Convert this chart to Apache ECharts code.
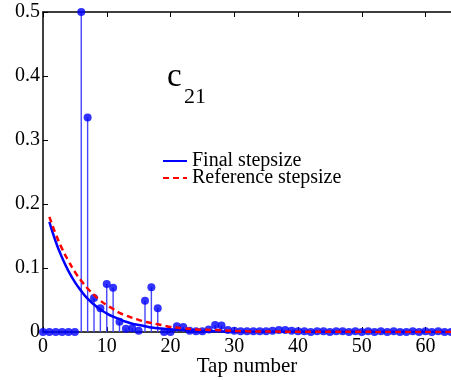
<!DOCTYPE html>
<html>
<head>
<meta charset="utf-8">
<script src="https://cdn.jsdelivr.net/npm/echarts@6/dist/echarts.min.js"></script>
<style>
  html, body { margin: 0; padding: 0; background: #fff; }
  #chart { width: 451px; height: 380px; }
</style>
</head>
<body>
<div id="chart"></div>
<script>
// tap index 0..64 and the stem heights
const stemTaps = Array.from({ length: 65 }, (_, i) => i);
const stemValues = [
  0, 0, 0, 0, 0, 0,
  0.5, 0.335, 0.053, 0.037, 0.075, 0.069, 0.016, 0.005, 0.006, 0.002, 0.049, 0.070, 0.037, 0, 0,
  0.009, 0.008, 0.002, 0.001, 0.001, 0.004, 0.011, 0.010, 0.003, 0.002,
  0.001, 0.001, 0.001, 0.001, 0.001, 0.002, 0.003, 0.003, 0.002, 0.001,
  0.001, 0, 0.001, 0.001, 0, 0.001, 0.001, 0, 0.001, 0,
  0.001, 0, 0.001, 0, 0.001, 0, 0, 0.001, 0, 0.001,
  0, 0.001, 0, 0
];

// smooth curves (read at a few taps)
const finalTaps   = [1, 2, 3, 4, 5, 6, 7, 8, 9, 10, 11, 12, 13, 14, 15, 16, 17, 18, 19, 20, 22, 24, 27, 32, 40, 64];
const finalValues = [0.172, 0.141, 0.116, 0.095, 0.078, 0.064, 0.052, 0.043, 0.035, 0.029, 0.024, 0.020, 0.016, 0.013, 0.011, 0.009, 0.007, 0.006, 0.005, 0.004, 0.003, 0.002, 0.001, 0.0005, 0.0002, 0];
const refTaps     = [1, 2, 3, 4, 5, 6, 7, 8, 9, 10, 11, 12, 13, 14, 15, 16, 17, 18, 19, 20, 22, 24, 27, 32, 40, 64];
const refValues   = [0.180, 0.153, 0.130, 0.111, 0.094, 0.080, 0.068, 0.058, 0.049, 0.042, 0.036, 0.030, 0.026, 0.022, 0.019, 0.016, 0.014, 0.012, 0.010, 0.008, 0.006, 0.004, 0.003, 0.001, 0.0005, 0];

const seriesNames = ['Final stepsize', 'Reference stepsize'];

const font = 'Liberation Serif';
const chart = echarts.init(document.getElementById('chart'));

const stemData = stemTaps.map((t, i) => [t, stemValues[i]]);

const option = {
  animation: false,
  grid: { left: 43, right: 0, top: 12, bottom: 48, containLabel: false, outerBoundsMode: 'none' },
  legend: {
    data: seriesNames,
    orient: 'vertical',
    left: 157,
    top: 146,
    itemWidth: 24,
    itemHeight: 10,
    itemGap: -3,
    itemStyle: { opacity: 0 },
    textStyle: { fontFamily: font, fontSize: 20, color: '#000' }
  },
  xAxis: [
    {
      type: 'value',
      min: 0, max: 64, interval: 10,
      name: 'Tap number',
      nameLocation: 'middle',
      nameGap: 24,
      nameMoveOverlap: false,
      nameTextStyle: { fontFamily: font, fontSize: 21, color: '#000' },
      axisLine: { lineStyle: { color: '#000', width: 1.5 } },
      axisTick: { inside: true, length: 5, lineStyle: { color: '#000' } },
      axisLabel: { fontFamily: font, fontSize: 20, color: '#000', margin: 5, showMaxLabel: false },
      splitLine: { show: false }
    },
    {
      type: 'value',
      position: 'top',
      min: 0, max: 64, interval: 10,
      axisLine: { lineStyle: { color: '#000', width: 1.5 } },
      axisTick: { inside: true, length: 5, lineStyle: { color: '#000' } },
      axisLabel: { show: false },
      splitLine: { show: false }
    }
  ],
  yAxis: {
    type: 'value',
    min: 0, max: 0.5, interval: 0.1,
    axisLine: { show: true, lineStyle: { color: '#000', width: 1.5 } },
    axisTick: { show: true, inside: true, length: 5, lineStyle: { color: '#000' } },
    axisLabel: { fontFamily: font, fontSize: 20, color: '#000', margin: 3 },
    splitLine: { show: false }
  },
  graphic: [
    {
      type: 'text', left: 167, top: 61, z: 10,
      style: { text: 'c', font: '33px "Liberation Serif"', fill: '#000' }
    },
    {
      type: 'text', left: 184, top: 86, z: 10,
      style: { text: '21', font: '22px "Liberation Serif"', fill: '#000' }
    }
  ],
  series: [
    {
      type: 'bar',
      data: stemData,
      barWidth: 1.4,
      itemStyle: { color: '#4646ff' },
      z: 2,
      silent: true
    },
    {
      type: 'scatter',
      data: stemData,
      symbolSize: 8,
      itemStyle: { color: '#0000ff' },
      z: 3
    },
    {
      name: seriesNames[0],
      type: 'line',
      data: finalTaps.map((t, i) => [t, finalValues[i]]),
      smooth: true,
      symbol: 'none',
      lineStyle: { color: '#0000ff', width: 2.5 },
      itemStyle: { color: '#0000ff' },
      z: 2
    },
    {
      name: seriesNames[1],
      type: 'line',
      data: refTaps.map((t, i) => [t, refValues[i]]),
      smooth: true,
      symbol: 'none',
      lineStyle: { color: '#ff0000', width: 2.5, type: [6, 4] },
      itemStyle: { color: '#ff0000' },
      z: 4
    }
  ]
};

chart.setOption(option);
</script>
</body>
</html>
